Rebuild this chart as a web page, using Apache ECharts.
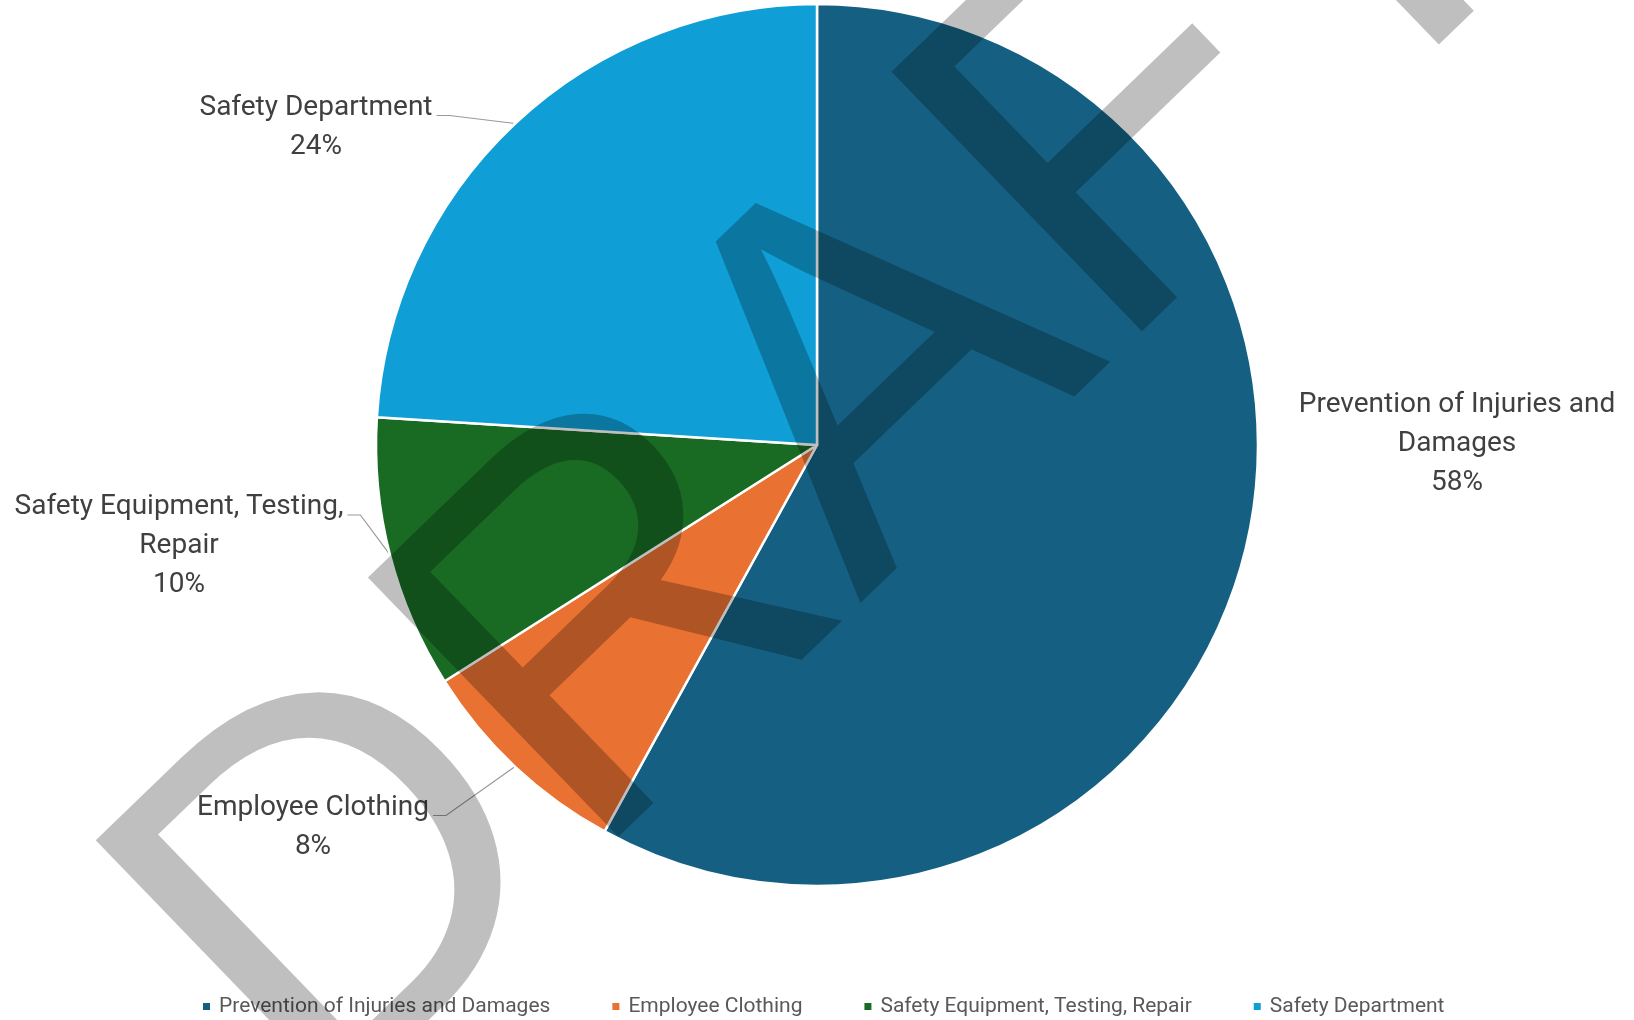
<!DOCTYPE html>
<html>
<head>
<meta charset="utf-8">
<title>Safety Spending</title>
<script src="https://cdn.jsdelivr.net/npm/echarts@6/dist/echarts.min.js"></script>
<style>
  html, body { margin: 0; padding: 0; background: #ffffff; }
  #chart { width: 1634px; height: 1020px; }
</style>
</head>
<body>
<div id="chart"></div>
<script>
// Spending categories and their shares (percent)
const categories = [
  'Prevention of Injuries and Damages',
  'Employee Clothing',
  'Safety Equipment, Testing, Repair',
  'Safety Department'
];
const shares = [58, 8, 10, 24];

const sliceColors = ['#156082', '#E97132', '#196B24', '#0F9ED5'];

// Where each slice label block is centred (px)
const labelSpots = [
  [1457, 444],
  [313, 827],
  [179, 546],
  [316, 127]
];

const LABEL_FONT = 28;
const LABEL_LINE_H = 39;

// Greedy word wrap for long category names
function wrapName(name, maxChars) {
  const words = name.split(' ');
  const lines = [];
  let cur = '';
  words.forEach(function (w) {
    const next = cur ? cur + ' ' + w : w;
    if (next.length > maxChars && cur) {
      lines.push(cur);
      cur = w;
    } else {
      cur = next;
    }
  });
  lines.push(cur);
  return lines.join('\n');
}

const pieData = categories.map(function (name, i) {
  return {
    name: name,
    value: shares[i],
    // the big slice carries its label beside it, without a leader line
    labelLine: { show: i !== 0 }
  };
});

const chart = echarts.init(document.getElementById('chart'), null, { renderer: 'canvas' });

chart.setOption({
  backgroundColor: '#ffffff',
  animation: false,
  color: sliceColors,
  legend: {
    data: categories,
    top: 991,
    left: 196,
    icon: 'rect',
    itemWidth: 9,
    itemHeight: 9,
    itemGap: 60,
    textStyle: {
      fontFamily: 'Roboto',
      fontSize: 21,
      color: '#595959',
      padding: [0, 0, 0, 3]
    }
  },
  series: [{
    type: 'pie',
    center: [817, 445],
    radius: 441,
    startAngle: 90,
    clockwise: true,
    avoidLabelOverlap: false,
    data: pieData,
    itemStyle: {
      borderColor: '#ffffff',
      borderWidth: 2.5
    },
    label: {
      show: true,
      position: 'outside',
      fontFamily: 'Roboto',
      fontSize: LABEL_FONT,
      lineHeight: LABEL_LINE_H,
      color: '#404040',
      align: 'center',
      formatter: function (p) {
        return wrapName(p.name, 26) + '\n' + Math.round(p.percent) + '%';
      }
    },
    labelLine: {
      show: true,
      lineStyle: { color: '#999999', width: 1.2 }
    },
    labelLayout: function (p) {
      const spot = labelSpots[p.dataIndex];
      const out = { x: spot[0], y: spot[1], align: 'center', verticalAlign: 'middle' };
      if (p.labelLinePoints) {
        const edge = p.labelLinePoints[0];
        const h = p.labelRect.height;
        const w = p.labelRect.width;
        const lineY = spot[1] - h / 2 + LABEL_LINE_H / 2 + 8;
        const endX = spot[0] + w / 2 + 4;
        out.labelLinePoints = [
          [edge[0], edge[1]],
          [endX + 13, lineY],
          [endX, lineY]
        ];
      }
      return out;
    }
  }],
  graphic: [{
    type: 'text',
    x: 843,
    y: 419,
    rotation: 44 * Math.PI / 180,
    silent: true,
    z: 100,
    style: {
      text: 'DRAFT',
      fontFamily: 'Liberation Sans',
      fontSize: 524,
      fill: 'rgba(0,0,0,0.25)',
      align: 'center',
      verticalAlign: 'middle'
    }
  }]
});
</script>
</body>
</html>
